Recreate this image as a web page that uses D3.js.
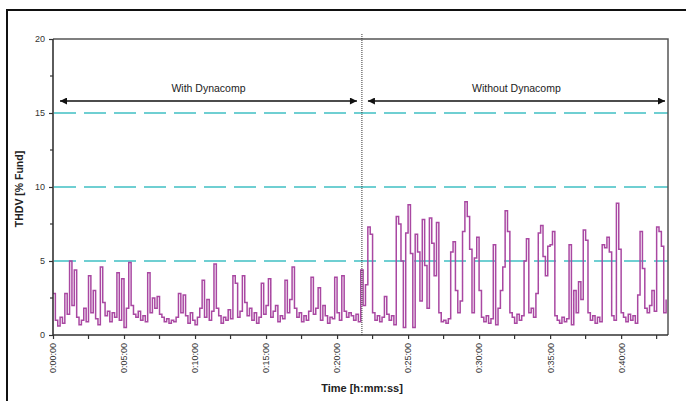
<!DOCTYPE html>
<html><head><meta charset="utf-8">
<script src="https://cdn.jsdelivr.net/npm/d3@7"></script>
<style>
html,body{margin:0;padding:0;background:#fff;}
svg{display:block;font-family:"Liberation Sans",Arial,sans-serif;}
</style></head>
<body><svg id="c" width="686" height="401"></svg>
<script>
// ---- data ----
const stepSeconds = 10;           // sampling interval of the THDV record
const xMaxSeconds = 2598;         // end of time axis (about 0:43:18)
const switchSeconds = 1305;       // moment Dynacomp was switched off
const yTicks = [0, 5, 10, 15, 20];
const yMinorTicks = [2.5, 7.5, 12.5, 17.5];
const xTickSeconds = [0, 300, 600, 900, 1200, 1500, 1800, 2100, 2400];
const xTickLabels = ["0:00:00","0:05:00","0:10:00","0:15:00","0:20:00","0:25:00","0:30:00","0:35:00","0:40:00"];
const xMinorSeconds = [150, 450, 750, 1050, 1350, 1650, 1950, 2250, 2550];
const limitLines = [5, 10, 15];
const sectionLabels = ["With Dynacomp", "Without Dynacomp"];
const thdvWith = [
2.8,1.0,0.6,1.2,0.8,2.8,1.4,5.0,2.0,4.4,
1.2,0.7,1.0,1.8,0.9,4.0,1.5,3.0,1.1,0.7,
4.6,2.2,1.3,1.6,0.9,1.5,1.2,4.2,1.0,3.8,
0.5,1.8,4.9,2.0,1.4,1.2,1.6,1.0,1.3,0.9,
4.2,1.5,2.5,1.8,2.6,1.4,1.2,0.9,1.1,0.8,
1.0,0.9,1.2,2.8,1.5,2.7,1.3,0.8,1.5,1.0,
0.7,1.2,1.8,3.7,1.2,2.4,1.0,1.6,4.8,1.8,
1.3,0.8,1.2,1.0,1.7,1.1,4.0,3.5,1.2,1.6,
4.0,2.2,1.3,1.8,1.0,1.5,0.8,1.2,3.5,1.4,
2.0,3.8,1.2,1.6,2.0,0.9,1.3,1.1,3.7,1.5,
2.4,4.6,1.8,1.2,1.5,0.9,1.3,1.0,1.6,3.9,
1.4,1.8,3.2,1.0,2.0,1.3,0.8,1.2,1.1,3.9,
1.5,1.0,4.0,1.6,1.2,1.5,1.3,1.0,1.4,0.9,
4.4
];
const thdvWithout = [
2.0,3.4,7.3,6.8,1.5,1.0,1.3,0.9,1.2,
2.6,1.4,1.0,1.3,0.7,8.0,7.5,5.0,0.5,6.9,
8.8,5.5,0.5,6.8,5.6,2.3,7.8,4.7,1.8,7.9,
6.2,4.0,7.6,1.5,0.9,1.0,0.8,1.1,5.6,6.3,
3.0,1.5,2.3,7.0,9.0,8.0,5.8,1.5,5.2,6.6,
3.0,1.2,0.9,1.3,0.8,1.1,6.1,0.7,1.8,3.0,
4.6,8.4,7.0,1.5,1.2,0.8,1.4,1.0,1.3,5.0,
6.5,1.5,1.8,1.2,2.8,6.9,7.4,5.3,4.0,6.0,
6.1,7.0,1.3,1.0,0.8,1.2,0.9,1.1,6.1,0.7,
3.0,1.5,3.6,2.4,7.1,6.4,1.5,1.0,1.3,0.8,
1.2,0.9,6.1,5.9,6.6,5.6,1.3,1.0,8.9,5.8,
1.5,1.2,0.9,1.4,1.0,1.3,0.8,2.7,7.0,4.5,
1.8,1.5,2.0,3.0,1.6,7.3,7.0,6.0,1.5,2.4
];
const thdv = thdvWith.concat(thdvWithout);

// ---- chart ----
const svg = d3.select("#c");
const m = {left:53, right:668, top:39, bottom:335};
const x = d3.scaleLinear().domain([0, xMaxSeconds]).range([m.left, m.right]);
const y = d3.scaleLinear().domain([0, 20]).range([m.bottom, m.top]);

// outer frame
svg.append("path").attr("d", `M7,401 V10 H686`).attr("fill","none")
  .attr("stroke","#111").attr("stroke-width",2);

// limit lines
svg.selectAll("line.lim").data(limitLines).join("line").attr("class","lim")
  .attr("x1", m.left).attr("x2", m.right)
  .attr("y1", d=>y(d)).attr("y2", d=>y(d))
  .attr("stroke","#6fcfd2").attr("stroke-width",2)
  .attr("stroke-dasharray","22,8").attr("stroke-dashoffset",-1);

// data line
const line = d3.line().x((d,i)=>x(i*stepSeconds)).y(d=>y(d)).curve(d3.curveStepAfter);
svg.append("path").datum(thdv).attr("d", line).attr("fill","none")
  .attr("stroke","#a948a2").attr("stroke-width",1.5).attr("stroke-linejoin","miter");

// plot frame top/right
svg.append("path").attr("d", `M${m.left},${m.top} H${m.right} V${m.bottom}`)
  .attr("fill","none").attr("stroke","#555").attr("stroke-width",1.5);

// y axis
const yAxis = d3.axisLeft(y).tickValues(yTicks).tickSize(4).tickPadding(4).tickFormat(d3.format("d"));
const gy = svg.append("g").attr("transform",`translate(${m.left},0)`).call(yAxis);
svg.append("g").selectAll("line").data(yMinorTicks).join("line")
  .attr("x1", m.left-3).attr("x2", m.left).attr("y1", d=>y(d)).attr("y2", d=>y(d))
  .attr("stroke","#333").attr("stroke-width",1.2);

// x axis
const xAxis = d3.axisBottom(x).tickValues(xTickSeconds).tickSize(4)
  .tickFormat((d,i)=>xTickLabels[i]);
const gx = svg.append("g").attr("transform",`translate(0,${m.bottom})`).call(xAxis);
gx.selectAll(".tick text").attr("transform","rotate(-90)")
  .attr("text-anchor","end").attr("x",-8).attr("y",0).attr("dy","0.32em");
svg.append("g").selectAll("line").data(xMinorSeconds).join("line")
  .attr("x1", d=>x(d)).attr("x2", d=>x(d)).attr("y1", m.bottom).attr("y2", m.bottom+4)
  .attr("stroke","#333").attr("stroke-width",1.2);

[gx, gy].forEach(g=>{
  g.select(".domain").attr("stroke","#333").attr("stroke-width",1.6);
  g.selectAll(".tick line").attr("stroke","#333").attr("stroke-width",1.2);
  g.selectAll(".tick text").attr("fill","#333").attr("font-size","9px")
    .attr("font-family","'Liberation Sans',Arial,sans-serif");
});
gy.select(".domain").attr("d", `M0,${m.bottom}V${m.top}`);
gx.select(".domain").attr("d", `M${m.left},0H${m.right}`);

// switch-over dotted line
svg.append("line").attr("x1", x(switchSeconds)).attr("x2", x(switchSeconds))
  .attr("y1", m.top-5).attr("y2", m.bottom)
  .attr("stroke","#333").attr("stroke-width",1).attr("stroke-dasharray","1,1");

// section arrows
const defs = svg.append("defs");
defs.append("marker").attr("id","ah").attr("viewBox","0 0 10 10").attr("refX",10).attr("refY",5)
  .attr("markerWidth",8).attr("markerHeight",7).attr("markerUnits","userSpaceOnUse")
  .attr("orient","auto-start-reverse")
  .append("path").attr("d","M0,0 L10,5 L0,10 Z").attr("fill","#111");
const arrowY = 101;
const sections = [[x(0)+7, x(switchSeconds)-5], [x(switchSeconds)+6, x(xMaxSeconds)-3]];
sections.forEach((s,i)=>{
  svg.append("line").attr("x1", s[0]).attr("x2", s[1]).attr("y1", arrowY).attr("y2", arrowY)
    .attr("stroke","#111").attr("stroke-width",1.3)
    .attr("marker-start","url(#ah)").attr("marker-end","url(#ah)");
  svg.append("text").attr("x", (s[0]+s[1])/2).attr("y", arrowY-9)
    .attr("text-anchor","middle").attr("font-size","10.5px").attr("fill","#222")
    .text(sectionLabels[i]);
});

// axis titles
svg.append("text").attr("transform","translate(23,189) rotate(-90)")
  .attr("text-anchor","middle").attr("font-size","10.5px").attr("font-weight","bold")
  .attr("fill","#222").text("THDV [% Fund]");
svg.append("text").attr("x", 362).attr("y", 392)
  .attr("text-anchor","middle").attr("font-size","11px").attr("font-weight","bold")
  .attr("fill","#222").text("Time [h:mm:ss]");
</script></body></html>
